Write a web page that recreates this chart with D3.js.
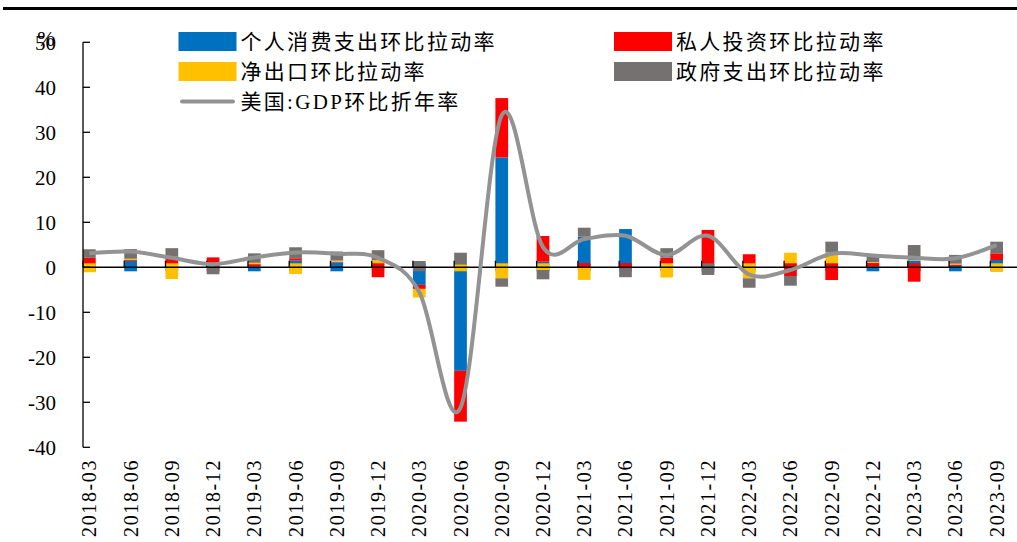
<!DOCTYPE html>
<html><head><meta charset="utf-8">
<script src="https://cdn.jsdelivr.net/npm/d3@7"></script>
<style>body{margin:0;background:#fff} svg{display:block}</style>
</head><body>
<svg id="chart" width="1017" height="542"></svg>
<script>
// ---------------- data ----------------
const categories = ["2018-03","2018-06","2018-09","2018-12","2019-03","2019-06","2019-09","2019-12",
  "2020-03","2020-06","2020-09","2020-12","2021-03","2021-06","2021-09","2021-12",
  "2022-03","2022-06","2022-09","2022-12","2023-03","2023-06","2023-09"];
const consumption = [0.4, 1.4, 0.5, 0, 0.2, 1.5, 1.1, 0, -3.9, -23.0, 24.4, 1.24, 6.8, 8.5, 0.5, 0.5, 0.5, 0.3, 0.6, 0.2, 1.5, 0.3, 1.62];
const investment  = [1.7, 0.2, 1.85, 2.2, 0.5, 0.5, 0.15, -2.2, -0.9, -11.3, 13.2, 5.71, -0.15, -0.2, 1.65, 7.8, 2.4, -1.93, -2.82, 0.75, -3.2, 0.3, 1.49];
const netExports  = [-1.1, 0.3, -2.6, 0, 0.3, -1.5, 0.25, 1.6, -1.93, 0.67, -2.44, -0.6, -2.65, 0, -2.27, 0, -2.44, 2.94, 2.7, 0.2, 0.1, 0.2, -0.98];
const government  = [1.9, 2.15, 1.9, -1.55, 2.1, 2.45, 2.0, 2.2, 1.4, 2.57, -1.87, -2.07, 2.0, -2.0, 2.1, -1.7, -2.1, -2.16, 2.4, 1.65, 3.35, 1.95, 2.58];
const gdp = [3.1, 3.5, 2.1, 0.7, 2.2, 3.3, 3.0, 2.1, -5.5, -31.2, 33.8, 4.5, 6.3, 7.0, 2.7, 7.0, -1.6, -0.6, 3.0, 2.6, 2.1, 2.0, 5.0];
const yTicks = [50, 40, 30, 20, 10, 0, -10, -20, -30, -40];
const seriesNames = ["个人消费支出环比拉动率", "私人投资环比拉动率", "净出口环比拉动率", "政府支出环比拉动率"];
const lineName = "美国:GDP环比折年率";
const unitLabel = "%";

// ---------------- styles ----------------
const colors = ["#0070C0", "#FF0000", "#FFC000", "#767171"];
const lineColor = "#939393";
const serif = "'Liberation Serif','Times New Roman',serif";
const cjk = "'Liberation Serif','Noto Sans CJK SC',serif";

const svg = d3.select("#chart");
const x = d3.scaleBand().domain(categories).range([83, 1003]).paddingInner(0.692).paddingOuter(0);
const y = d3.scaleLinear().domain([-40, 50]).range([447.3, 42.3]);
const bw = x.bandwidth();

// top rule
svg.append("line").attr("x1", 3).attr("x2", 1017).attr("y1", 8.5).attr("y2", 8.5)
  .attr("stroke", "#000").attr("stroke-width", 3);

// stacked bars (diverging)
const keys = ["c", "i", "n", "g"];
const table = categories.map((c, k) => ({cat: c, c: consumption[k], i: investment[k], n: netExports[k], g: government[k]}));
const stacked = d3.stack().keys(keys).offset(d3.stackOffsetDiverging)(table);
const overlap = 4; // segments touching zero slightly overlap the baseline, as in the original rendering
const segs = [];
stacked.forEach((layer, s) => {
  layer.forEach((d, k) => {
    const v = d.data[keys[s]];
    if (v === 0) return;
    segs.push({s, k, v, d0: d[0], d1: d[1]});
  });
});
segs.sort((a, b) => {
  const ra = a.s === 0 ? 0 : (a.v > 0 ? 1 : 2), rb = b.s === 0 ? 0 : (b.v > 0 ? 1 : 2);
  return ra - rb || a.s - b.s;
});
svg.append("g").selectAll("rect").data(segs).join("rect")
  .attr("x", d => x(categories[d.k]))
  .attr("width", bw)
  .attr("y", d => {
    const top = y(d.d1);
    return (d.v < 0 && d.d1 === 0) ? top - overlap : top;
  })
  .attr("height", d => {
    let h = y(d.d0) - y(d.d1);
    if ((d.v > 0 && d.d0 === 0) || (d.v < 0 && d.d1 === 0)) h += overlap;
    return h;
  })
  .attr("fill", d => colors[d.s]);

// axes
const axG = svg.append("g").attr("stroke", "#000");
axG.append("line").attr("x1", 83).attr("x2", 83).attr("y1", y(50)).attr("y2", y(-40)).attr("stroke-width", 1.3);
axG.selectAll(".yt").data(yTicks).join("line").attr("class", "yt")
  .attr("x1", 83).attr("x2", 90).attr("y1", d => y(d)).attr("y2", d => y(d)).attr("stroke-width", 1.3);
axG.append("line").attr("x1", 83).attr("x2", 1017).attr("y1", y(0)).attr("y2", y(0)).attr("stroke-width", 1.5);
axG.selectAll(".xt").data(categories).join("line").attr("class", "xt")
  .attr("x1", d => x(d)).attr("x2", d => x(d)).attr("y1", y(0)).attr("y2", y(0) - 6.5).attr("stroke-width", 1.3);

svg.append("g").selectAll("text").data(yTicks).join("text")
  .attr("x", 56).attr("y", d => y(d)).attr("dy", "0.35em")
  .attr("text-anchor", "end").attr("font-family", serif).attr("font-size", 21)
  .text(d => d);
svg.append("text").attr("x", 46).attr("y", 46).attr("text-anchor", "middle")
  .attr("font-family", serif).attr("font-size", 21).text(unitLabel);

svg.append("g").selectAll("text").data(categories).join("text")
  .attr("transform", d => `translate(${x(d) + bw / 2},459) rotate(-90)`)
  .attr("dy", "0.35em").attr("text-anchor", "end")
  .attr("font-family", serif).attr("font-size", 20).attr("letter-spacing", "1.6px")
  .text(d => d);

// GDP line
const line = d3.line()
  .x((d, k) => x(categories[k]) + bw / 2)
  .y(d => y(d))
  .curve(d3.curveCardinal.tension(0));
svg.append("path").datum(gdp).attr("d", line).attr("fill", "none")
  .attr("stroke", lineColor).attr("stroke-width", 4).attr("stroke-linejoin", "round");

// legend
const legendItems = [
  {name: seriesNames[0], color: colors[0], sx: 178.5, sy: 32},
  {name: seriesNames[1], color: colors[1], sx: 614, sy: 32},
  {name: seriesNames[2], color: colors[2], sx: 178.5, sy: 62},
  {name: seriesNames[3], color: colors[3], sx: 614, sy: 62}
];
const lg = svg.append("g");
legendItems.forEach(it => {
  lg.append("rect").attr("x", it.sx).attr("y", it.sy).attr("width", 58).attr("height", 19).attr("fill", it.color);
  lg.append("text").attr("x", it.sx + 62).attr("y", it.sy + 9.5).attr("dy", "0.36em")
    .attr("font-family", cjk).attr("font-size", 21).attr("letter-spacing", "2.3px").text(it.name);
});
lg.append("line").attr("x1", 182).attr("x2", 233).attr("y1", 101.5).attr("y2", 101.5)
  .attr("stroke", lineColor).attr("stroke-width", 4).attr("stroke-linecap", "round");
lg.append("text").attr("x", 240.5).attr("y", 101.5).attr("dy", "0.36em")
  .attr("font-family", cjk).attr("font-size", 21).attr("letter-spacing", "2.3px").text(lineName);
</script>
</body></html>
